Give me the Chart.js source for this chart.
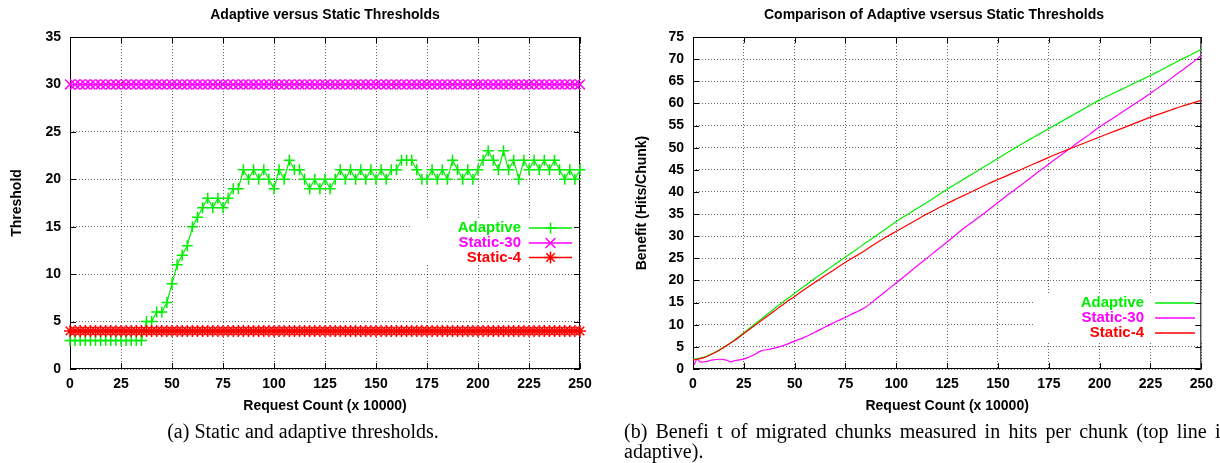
<!DOCTYPE html>
<html>
<head>
<meta charset="utf-8">
<title>Adaptive versus Static Thresholds</title>
<script src="https://cdn.jsdelivr.net/npm/chart.js@4/dist/chart.umd.min.js"></script>
<style>
  body { margin: 0; width: 1220px; height: 463px; overflow: hidden; background: #fff; position: relative; }
  .panel { position: absolute; top: 0; width: 610px; height: 463px; }
  .caption {
    position: absolute; top: 421px; color: #000; white-space: nowrap;
    font-family: 'Liberation Serif', 'Times New Roman', serif; font-size: 20px; line-height: 20px;
  }
  .justified { word-spacing: 3.2px; }
</style>
</head>
<body>
<div class="panel" style="left:0"><canvas id="thresholdChart" width="610" height="463"></canvas></div>
<div class="panel" style="left:610px"><canvas id="benefitChart" width="610" height="463"></canvas></div>
<div class="caption" style="left:0; width:606px; text-align:center">(a) Static and adaptive thresholds.</div>
<div class="caption" style="left:624px"><span class="justified">(b) Benefi t of migrated chunks measured in hits per chunk (top line is</span><br>adaptive).</div>

<script>
// ---- (a) thresholds, sampled every 25000 requests ----
const thresholdX = [
    0, 2.5, 5, 7.5, 10, 12.5, 15, 17.5, 20, 22.5,
    25, 27.5, 30, 32.5, 35, 37.5, 40, 42.5, 45, 47.5,
    50, 52.5, 55, 57.5, 60, 62.5, 65, 67.5, 70, 72.5,
    75, 77.5, 80, 82.5, 85, 87.5, 90, 92.5, 95, 97.5,
    100, 102.5, 105, 107.5, 110, 112.5, 115, 117.5, 120, 122.5,
    125, 127.5, 130, 132.5, 135, 137.5, 140, 142.5, 145, 147.5,
    150, 152.5, 155, 157.5, 160, 162.5, 165, 167.5, 170, 172.5,
    175, 177.5, 180, 182.5, 185, 187.5, 190, 192.5, 195, 197.5,
    200, 202.5, 205, 207.5, 210, 212.5, 215, 217.5, 220, 222.5,
    225, 227.5, 230, 232.5, 235, 237.5, 240, 242.5, 245, 247.5,
    250
];
const adaptiveThreshold = [
    3, 3, 3, 3, 3, 3, 3, 3, 3, 3,
    3, 3, 3, 3, 3, 5, 5, 6, 6, 7,
    9, 11, 12, 13, 15, 16, 17, 18, 17, 18,
    17, 18, 19, 19, 21, 20, 21, 20, 21, 20,
    19, 21, 20, 22, 21, 21, 20, 19, 20, 19,
    20, 19, 20, 21, 20, 21, 20, 21, 20, 21,
    20, 21, 20, 21, 21, 22, 22, 22, 21, 20,
    20, 21, 20, 21, 20, 22, 21, 20, 21, 20,
    21, 22, 23, 22, 21, 23, 21, 22, 20, 22,
    21, 22, 21, 22, 21, 22, 21, 20, 21, 20,
    21
];
const static30Threshold = [
    30, 30, 30, 30, 30, 30, 30, 30, 30, 30,
    30, 30, 30, 30, 30, 30, 30, 30, 30, 30,
    30, 30, 30, 30, 30, 30, 30, 30, 30, 30,
    30, 30, 30, 30, 30, 30, 30, 30, 30, 30,
    30, 30, 30, 30, 30, 30, 30, 30, 30, 30,
    30, 30, 30, 30, 30, 30, 30, 30, 30, 30,
    30, 30, 30, 30, 30, 30, 30, 30, 30, 30,
    30, 30, 30, 30, 30, 30, 30, 30, 30, 30,
    30, 30, 30, 30, 30, 30, 30, 30, 30, 30,
    30, 30, 30, 30, 30, 30, 30, 30, 30, 30,
    30
];
const static4Threshold = [
    4, 4, 4, 4, 4, 4, 4, 4, 4, 4,
    4, 4, 4, 4, 4, 4, 4, 4, 4, 4,
    4, 4, 4, 4, 4, 4, 4, 4, 4, 4,
    4, 4, 4, 4, 4, 4, 4, 4, 4, 4,
    4, 4, 4, 4, 4, 4, 4, 4, 4, 4,
    4, 4, 4, 4, 4, 4, 4, 4, 4, 4,
    4, 4, 4, 4, 4, 4, 4, 4, 4, 4,
    4, 4, 4, 4, 4, 4, 4, 4, 4, 4,
    4, 4, 4, 4, 4, 4, 4, 4, 4, 4,
    4, 4, 4, 4, 4, 4, 4, 4, 4, 4,
    4
];

// ---- (b) benefit in hits per chunk ----
const benefitX = [
    0, 5, 10, 15, 20, 25, 30, 35, 40, 45,
    50, 55, 60, 65, 70, 75, 80, 85, 90, 95,
    100, 105, 110, 115, 120, 125, 130, 135, 140, 145,
    150, 155, 160, 165, 170, 175, 180, 185, 190, 195,
    200, 205, 210, 215, 220, 225, 230, 235, 240, 245,
    250
];
const adaptiveBenefit = [
    2.2, 2.6, 3.6, 4.9, 6.4, 8.2, 10.0, 11.8, 13.6, 15.4,
    17.1, 18.8, 20.5, 22.1, 23.7, 25.3, 26.9, 28.5, 30.1, 31.7,
    33.3, 34.8, 36.2, 37.6, 39.1, 40.6, 42.0, 43.4, 44.8, 46.2,
    47.6, 49.0, 50.4, 51.7, 53.0, 54.3, 55.6, 56.9, 58.2, 59.5,
    60.8, 61.9, 63.0, 64.1, 65.2, 66.3, 67.5, 68.7, 69.9, 71.0,
    72.2
];
const static4Benefit = [
    2.0, 2.5, 3.5, 4.8, 6.3, 8.0, 9.7, 11.4, 13.1, 14.8,
    16.4, 18.0, 19.6, 21.1, 22.6, 24.1, 25.5, 26.9, 28.4, 29.8,
    31.1, 32.4, 33.7, 35.0, 36.2, 37.4, 38.5, 39.6, 40.7, 41.8,
    42.8, 43.8, 44.8, 45.8, 46.8, 47.8, 48.8, 49.7, 50.6, 51.5,
    52.4, 53.3, 54.2, 55.1, 56.0, 56.9, 57.7, 58.5, 59.3, 60.0,
    60.7
];
// static-30 wobbles early on, so it is sampled more finely there
const static30X = [
    0.5, 2, 3.5, 6.5, 9, 13, 16.5, 18.5, 20.5, 23.5,
    26, 30, 33.5, 39, 45,
    50, 55, 60, 65, 70, 75, 80, 85, 90, 95,
    100, 105, 110, 115, 120, 125, 130, 135, 140, 145,
    150, 155, 160, 165, 170, 175, 180, 185, 190, 195,
    200, 205, 210, 215, 220, 225, 230, 235, 240, 245,
    250
];
const static30Benefit = [
    0.9, 2.2, 1.6, 1.7, 2.0, 2.2, 2.0, 1.6, 1.9, 2.1,
    2.4, 3.2, 4.1, 4.6, 5.4,
    6.3, 7.2, 8.3, 9.5, 10.6, 11.7, 12.8, 14.0, 15.8, 17.6,
    19.5, 21.3, 23.2, 25.0, 26.9, 28.7, 30.6, 32.4, 34.1, 35.8,
    37.6, 39.4, 41.1, 42.8, 44.6, 46.3, 48.0, 49.7, 51.4, 53.0,
    54.7, 56.2, 57.7, 59.2, 60.7, 62.3, 63.9, 65.6, 67.3, 69.0,
    70.8
];

const GREEN = '#00ee00';
const MAGENTA = '#ff00ff';
const RED = '#ff0000';
const FONT = "'Liberation Sans', Arial, Helvetica, sans-serif";

Chart.defaults.font.family = FONT;
Chart.defaults.font.size = 14;
Chart.defaults.font.weight = 'bold';
Chart.defaults.color = '#000';

function pairs(xs, ys) {
    return xs.map((x, i) => ({ x: x, y: ys[i] }));
}

function drawMark(ctx, style, x, y, r) {
    ctx.beginPath();
    if (style === 'cross' || style === 'star') {
        ctx.moveTo(x - r, y); ctx.lineTo(x + r, y);
        ctx.moveTo(x, y - r); ctx.lineTo(x, y + r);
    }
    if (style === 'crossRot' || style === 'star') {
        const d = r * Math.SQRT1_2;
        ctx.moveTo(x - d, y - d); ctx.lineTo(x + d, y + d);
        ctx.moveTo(x - d, y + d); ctx.lineTo(x + d, y - d);
    }
    ctx.stroke();
}

// gnuplot look: title, frame with inward ticks, key with cleared background
const gnuplotFrame = {
    id: 'gnuplotFrame',
    beforeDatasetsDraw(chart, args, opts) {
        const { ctx, chartArea: a } = chart;
        const key = opts.key;
        ctx.save();
        ctx.setLineDash([]);

        ctx.fillStyle = '#fff';
        ctx.fillRect(key.box[0], key.box[1], key.box[2] - key.box[0], key.box[3] - key.box[1]);

        ctx.strokeStyle = '#000';
        ctx.lineWidth = 1;
        ctx.strokeRect(a.left + 0.5, a.top + 0.5, a.right - a.left - 1, a.bottom - a.top - 1);

        const xs = chart.scales.x, ys = chart.scales.y;
        ctx.beginPath();
        xs.ticks.forEach(t => {
            const px = Math.round(xs.getPixelForValue(t.value)) + 0.5;
            ctx.moveTo(px, a.bottom); ctx.lineTo(px, a.bottom - 6);
            ctx.moveTo(px, a.top); ctx.lineTo(px, a.top + 6);
        });
        ys.ticks.forEach(t => {
            const py = Math.round(ys.getPixelForValue(t.value)) + 0.5;
            ctx.moveTo(a.left, py); ctx.lineTo(a.left + 6, py);
            ctx.moveTo(a.right, py); ctx.lineTo(a.right - 6, py);
        });
        ctx.stroke();

        ctx.font = 'bold 15px ' + FONT;
        ctx.textAlign = 'right';
        ctx.textBaseline = 'middle';
        ctx.lineWidth = 1.5;
        chart.data.datasets.forEach((ds, i) => {
            const y = key.rows[i];
            ctx.fillStyle = ds.borderColor;
            ctx.fillText(ds.label, key.textRight, y);
            ctx.strokeStyle = ds.borderColor;
            ctx.beginPath();
            ctx.moveTo(key.line[0], y);
            ctx.lineTo(key.line[1], y);
            ctx.stroke();
            if (ds.pointRadius) {
                drawMark(ctx, ds.pointStyle, (key.line[0] + key.line[1]) / 2, y, ds.pointRadius);
            }
        });

        ctx.fillStyle = '#000';
        ctx.textAlign = 'center';
        ctx.font = 'bold 14px ' + FONT;
        ctx.fillText(opts.title, opts.titleX, 15);
        ctx.restore();
    }
};

function axes(yMax, yStep, yTitle, yWidth) {
    return {
        x: {
            type: 'linear', min: 0, max: 250,
            ticks: { stepSize: 25, padding: 7 },
            grid: { color: 'rgba(0,0,0,0.6)', drawTicks: false },
            border: { display: false, dash: [1, 2] },
            title: { display: true, text: 'Request Count (x 10000)', font: { size: 14, weight: 'bold' } },
            afterFit: s => { s.height = 50; }
        },
        y: {
            type: 'linear', min: 0, max: yMax,
            ticks: { stepSize: yStep, padding: 9 },
            grid: { color: 'rgba(0,0,0,0.6)', drawTicks: false },
            border: { display: false, dash: [1, 2] },
            title: { display: true, text: yTitle, font: { size: 14, weight: 'bold' } },
            afterFit: s => { s.width = yWidth; }
        }
    };
}

function baseOptions(padLeft, padRight) {
    return {
        responsive: false,
        animation: false,
        layout: { padding: { left: padLeft, right: padRight, top: 37, bottom: 44 } },
        plugins: { legend: { display: false }, tooltip: { enabled: false } }
    };
}

function buildThresholdChart() {
    const ctx = document.getElementById('thresholdChart').getContext('2d');
    const options = baseOptions(5, 30);
    options.scales = axes(35, 5, 'Threshold', 65);
    options.plugins.gnuplotFrame = {
        title: 'Adaptive versus Static Thresholds',
        titleX: 325,
        key: { box: [410, 219, 579, 265], rows: [228, 243, 257.5], textRight: 521, line: [529, 572] }
    };
    return new Chart(ctx, {
        type: 'line',
        data: {
            datasets: [
                { label: 'Adaptive', data: pairs(thresholdX, adaptiveThreshold), borderColor: GREEN,
                  pointStyle: 'cross', pointRadius: 5.5, order: 3 },
                { label: 'Static-30', data: pairs(thresholdX, static30Threshold), borderColor: MAGENTA,
                  pointStyle: 'crossRot', pointRadius: 7, order: 2 },
                { label: 'Static-4', data: pairs(thresholdX, static4Threshold), borderColor: RED,
                  pointStyle: 'star', pointRadius: 6, order: 1 }
            ].map(ds => Object.assign(ds, {
                borderWidth: 1.2, pointBorderColor: ds.borderColor, pointBorderWidth: 1.5,
                backgroundColor: ds.borderColor, tension: 0, clip: 10
            }))
        },
        options: options,
        plugins: [gnuplotFrame]
    });
}

function buildBenefitChart() {
    const ctx = document.getElementById('benefitChart').getContext('2d');
    const options = baseOptions(20, 15);
    options.scales = axes(75, 5, 'Benefit (Hits/Chunk)', 63);
    options.plugins.gnuplotFrame = {
        title: 'Comparison of Adaptive vsersus Static Thresholds',
        titleX: 324,
        key: { box: [425, 295, 594, 341], rows: [303, 318, 333], textRight: 534, line: [545, 585] }
    };
    return new Chart(ctx, {
        type: 'line',
        data: {
            datasets: [
                { label: 'Adaptive', data: pairs(benefitX, adaptiveBenefit), borderColor: GREEN, order: 3 },
                { label: 'Static-30', data: pairs(static30X, static30Benefit), borderColor: MAGENTA, order: 2 },
                { label: 'Static-4', data: pairs(benefitX, static4Benefit), borderColor: RED, order: 1 }
            ].map(ds => Object.assign(ds, {
                borderWidth: 1.2, pointRadius: 0, tension: 0.3, backgroundColor: ds.borderColor
            }))
        },
        options: options,
        plugins: [gnuplotFrame]
    });
}

buildThresholdChart();
buildBenefitChart();
</script>
</body>
</html>
